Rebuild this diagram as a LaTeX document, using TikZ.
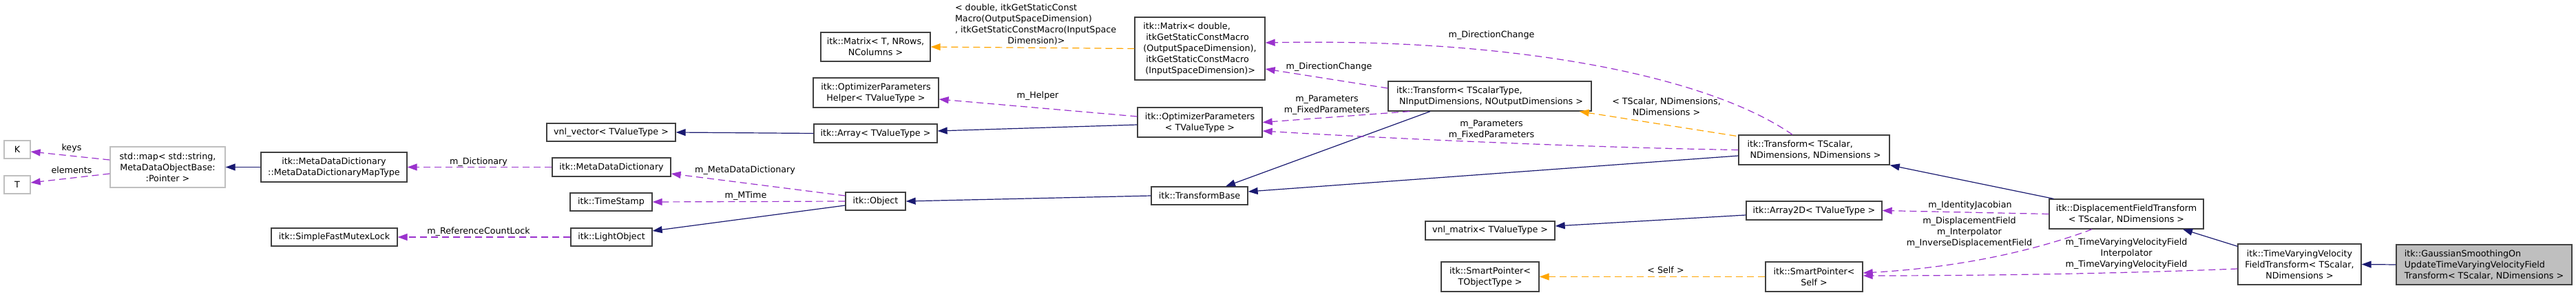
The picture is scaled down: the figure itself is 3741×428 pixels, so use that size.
\documentclass[tikz,border=0pt]{standalone}
\usepackage{fontspec}
\setmainfont{DejaVu Sans}
\usetikzlibrary{arrows.meta}
\definecolor{edgeblue}{HTML}{191970}
\definecolor{edgepurple}{HTML}{9A32CD}
\definecolor{edgeorange}{HTML}{FFA500}
\definecolor{boxborder}{HTML}{404040}
\definecolor{extborder}{HTML}{BFBFBF}
\definecolor{curfill}{HTML}{BFBFBF}
\tikzset{
  txt/.style={font=\fontsize{12.7}{16}\selectfont},
  cls/.style={txt, draw=boxborder, line width=1.3pt, fill=white, inner sep=0pt, align=center},
  ext/.style={cls, draw=extborder},
  cur/.style={cls, fill=curfill},
  lbl/.style={txt, inner sep=0pt, align=center},
  tip/.style={-{Triangle[length=14pt,width=10pt]}},
  inh/.style={tip, draw=edgeblue, line width=1.2pt},
  use/.style={tip, draw=edgepurple, line width=1.2pt, dash pattern=on 10pt off 6pt},
  tpl/.style={tip, draw=edgeorange, line width=1.2pt, dash pattern=on 10pt off 6pt},
}
\begin{document}
\begin{tikzpicture}[x=1pt,y=-1pt]
\useasboundingbox (0,0) rectangle (3741,428);
% nodes
\node[ext, minimum width=38pt, minimum height=26pt] (K) at (25,217) {K};
\node[ext, minimum width=38pt, minimum height=26pt] (T) at (25,268) {T};
\node[ext, minimum width=167pt, minimum height=59pt] (map) at (243.5,242.5) {std::map< std::string,\\ MetaDataObjectBase:\\:Pointer >};
\node[cls, minimum width=212pt, minimum height=43pt] (mdmap) at (485,242.5) {itk::MetaDataDictionary\\::MetaDataDictionaryMapType};
\node[cls, minimum width=183pt, minimum height=26pt] (sfml) at (485.5,344) {itk::SimpleFastMutexLock};
\node[cls, minimum width=187pt, minimum height=26pt] (vnlvec) at (887.5,192) {vnl\_vector< TValueType >};
\node[cls, minimum width=172pt, minimum height=27pt] (mdd) at (888,242.5) {itk::MetaDataDictionary};
\node[cls, minimum width=119pt, minimum height=26pt] (tstamp) at (887.5,293) {itk::TimeStamp};
\node[cls, minimum width=118pt, minimum height=26pt] (lobj) at (888,344) {itk::LightObject};
\node[cls, minimum width=159pt, minimum height=42pt] (matT) at (1271.5,68) {itk::Matrix< T, NRows,\\NColumns >};
\node[cls, minimum width=182pt, minimum height=43pt] (helper) at (1272,134.5) {itk::OptimizerParameters\\Helper< TValueType >};
\node[cls, minimum width=179pt, minimum height=27pt] (array) at (1271.5,193.5) {itk::Array< TValueType >};
\node[cls, minimum width=87pt, minimum height=26pt] (object) at (1271.5,292) {itk::Object};
\node[cls, align=left, minimum width=189pt, minimum height=91pt] (matD) at (1742.5,70.5) {itk::Matrix< double,\\\hspace*{4pt}itkGetStaticConstMacro\\(OutputSpaceDimension),\\\hspace*{4pt}itkGetStaticConstMacro\\\hspace*{3pt}(InputSpaceDimension)>};
\node[cls, minimum width=181pt, minimum height=43pt] (optp) at (1742.5,177.5) {itk::OptimizerParameters\\< TValueType >};
\node[cls, minimum width=140pt, minimum height=26pt] (tbase) at (1742,284) {itk::TransformBase};
\node[cls, align=left, minimum width=295pt, minimum height=43pt] (trTST) at (2163.5,139.5) {itk::Transform< TScalarType,\\\hspace*{4pt}NInputDimensions, NOutputDimensions >};
\node[cls, minimum width=188pt, minimum height=27pt] (vnlmat) at (2164,334.5) {vnl\_matrix< TValueType >};
\node[cls, minimum width=142pt, minimum height=43pt] (spTO) at (2164,401.5) {itk::SmartPointer<\\ TObjectType >};
\node[cls, align=left, minimum width=219pt, minimum height=43pt] (trTS) at (2634.5,217.5) {itk::Transform< TScalar,\\\hspace*{4pt}NDimensions, NDimensions >};
\node[cls, minimum width=197pt, minimum height=27pt] (arr2d) at (2634.5,305.5) {itk::Array2D< TValueType >};
\node[cls, minimum width=141pt, minimum height=43pt] (spSelf) at (2634.5,401.5) {itk::SmartPointer<\\ Self >};
\node[cls, minimum width=224pt, minimum height=43pt] (dft) at (3088,310.5) {itk::DisplacementFieldTransform\\< TScalar, NDimensions >};
\node[cls, minimum width=179pt, minimum height=59pt] (tvvft) at (3339.5,383.5) {itk::TimeVaryingVelocity\\FieldTransform< TScalar,\\ NDimensions >};
\node[cur, align=left, minimum width=255pt, minimum height=58pt] (gauss) at (3607.5,384) {itk::GaussianSmoothingOn\\UpdateTimeVaryingVelocityField\\Transform< TScalar, NDimensions >};
% edges
\draw[use] ([yshift=10.5pt]map.west) -- ([yshift=-3pt]K.east);
\draw[use] ([yshift=-9.5pt]map.west) -- ([yshift=3pt]T.east);
\draw[inh] (mdmap.west) -- (map.east);
\draw[use] (mdd.west) -- (mdmap.east);
\draw[use] (lobj.west) -- (sfml.east);
\draw[inh] (array.west) -- (vnlvec.east);
\draw[use] ([yshift=8pt]object.west) -- ([yshift=-9.5pt]mdd.east);
\draw[use] (object.west) -- (tstamp.east);
\draw[inh] ([yshift=-6pt]object.west) -- ([yshift=9pt]lobj.east);
\draw[inh] (tbase.west) -- (object.east);
\draw[inh] ([yshift=-3.5pt]optp.west) -- ([yshift=3.5pt]array.east);
\draw[use] ([yshift=8.5pt]optp.west) -- ([yshift=-9.5pt]helper.east);
\draw[tpl] (matD.west) -- (matT.east);
\draw[use] ([yshift=11.5pt]trTST.west) -- ([yshift=-29.5pt]matD.east);
\draw[use] ([xshift=-116.5pt]trTST.south) -- (optp.east);
\draw[inh] ([xshift=-86.5pt]trTST.south) -- ([xshift=38pt]tbase.north);
\draw[tpl] ([xshift=-3pt,yshift=-2pt]trTS.north west) -- ([xshift=-18pt]trTST.south east);
\draw[use] ([xshift=-31.5pt]trTS.north) .. controls (2480,110) and (2200,55) .. ([yshift=8.5pt]matD.east);
\draw[use] (trTS.west) .. controls (2300,214) and (2000,200) .. ([yshift=-12.5pt]optp.east);
\draw[inh] ([yshift=-8.5pt]trTS.west) -- ([yshift=6pt]tbase.east);
\draw[inh] ([yshift=-6.5pt]arr2d.west) -- ([yshift=6.5pt]vnlmat.east);
\draw[inh] ([xshift=7pt]dft.north west) -- (trTS.south east);
\draw[use] (dft.west) -- (arr2d.east);
\draw[use] ([xshift=-50pt]dft.south) .. controls (2960,362) and (2850,388) .. ([yshift=5.5pt]spSelf.east);
\draw[use] ([yshift=-6.5pt]tvvft.west) .. controls (3050,398) and (2850,400) .. ([yshift=1.5pt]spSelf.east);
\draw[inh] ([yshift=-4pt]tvvft.north west) -- ([xshift=82pt]dft.south);
\draw[inh] (gauss.west) -- (tvvft.east);
\draw[tpl] (spSelf.west) -- (spTO.east);
% labels
\node[lbl] (l1) at (104,215) {keys};
\node[lbl] (l2) at (104,247) {elements};
\node[lbl] (l3) at (695,235) {m\_Dictionary};
\node[lbl] (l4) at (695,336) {m\_ReferenceCountLock};
\node[lbl] (l5) at (1082,247) {m\_MetaDataDictionary};
\node[lbl] (l6) at (1083,284) {m\_MTime};
\node[lbl] (l7) at (1507,139) {m\_Helper};
\node[lbl] (l8) at (1505,36) {\parbox{236pt}{\raggedright \textless{} double, itkGetStaticConst\\Macro(OutputSpaceDimension)\\, itkGetStaticConstMacro(InputSpace\par\centering Dimension)\textgreater\par}};
\node[lbl] (l9) at (1930,97) {m\_DirectionChange};
\node[lbl] (l10) at (1927,152) {m\_Parameters\\m\_FixedParameters};
\node[lbl] (l11) at (2166,51) {m\_DirectionChange};
\node[lbl] (l12) at (2166,188) {m\_Parameters\\m\_FixedParameters};
\node[lbl] (l13) at (2420,155) {< TScalar, NDimensions,\\ NDimensions >};
\node[lbl] (l14) at (2861,298) {m\_IdentityJacobian};
\node[lbl] (l15) at (2860,337) {m\_DisplacementField\\m\_Interpolator\\m\_InverseDisplacementField};
\node[lbl] (l16) at (3088,368) {m\_TimeVaryingVelocityField\\Interpolator\\m\_TimeVaryingVelocityField};
\node[lbl] (l17) at (2419,392) {< Self >};
\end{tikzpicture}
\end{document}
